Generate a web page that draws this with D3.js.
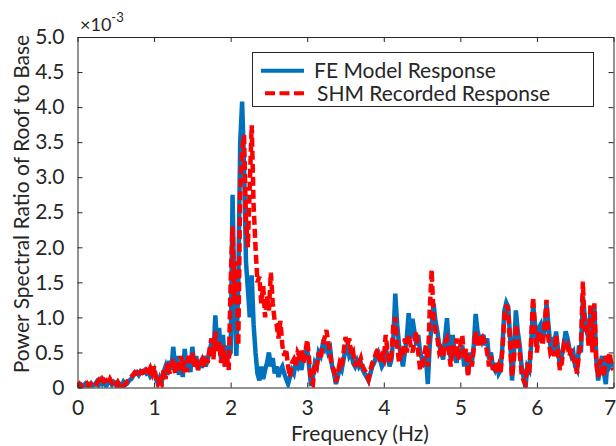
<!DOCTYPE html>
<html><head><meta charset="utf-8">
<script src="https://cdn.jsdelivr.net/npm/d3@7"></script>
<style>
body{margin:0;background:#fff}
text{font-family:Lato,"Open Sans",sans-serif;fill:#262626}
</style>
</head><body><svg id="c" width="616" height="446"></svg>
<script>
// Frequency grid step (Hz) for both series
const freqStep = 0.025;
// FE Model Response (x 1e-3)
const feModel = [
0.03,0.01,0.04,0.02,0.05,0.01,0.03,0.06,0.02,0.04,
0.08,0.03,0.10,0.05,0.09,0.02,0.07,0.10,0.04,0.08,
0.06,0.02,0.05,0.03,0.08,0.04,0.06,0.10,0.12,0.16,
0.20,0.22,0.18,0.23,0.21,0.24,0.20,0.22,0.16,0.20,
0.25,0.12,0.06,0.14,0.08,0.22,0.30,0.18,0.38,0.25,
0.58,0.30,0.45,0.18,0.35,0.15,0.55,0.28,0.40,0.22,
0.58,0.30,0.45,0.25,0.38,0.28,0.45,0.30,0.40,0.50,
0.65,0.45,1.03,0.55,0.85,0.40,0.75,0.30,0.60,0.45,
0.50,2.75,1.20,0.45,1.50,3.50,4.08,3.20,1.80,1.40,
1.00,1.60,0.90,0.50,0.20,0.10,0.30,0.12,0.25,0.35,
0.50,0.30,0.42,0.20,0.30,0.15,0.25,0.30,0.20,0.12,
0.05,0.15,0.25,0.20,0.35,0.30,0.40,0.25,0.45,0.50,
0.55,0.30,0.02,0.15,0.35,0.30,0.50,0.45,0.60,0.55,
0.65,0.50,0.55,0.30,0.20,0.05,0.15,0.30,0.25,0.40,
0.55,0.60,0.45,0.50,0.35,0.30,0.38,0.30,0.35,0.25,
0.20,0.15,0.10,0.20,0.30,0.35,0.45,0.50,0.40,0.30,
0.35,0.55,0.45,0.30,0.40,0.70,1.34,0.90,0.60,0.45,
0.30,0.50,0.70,1.06,0.70,0.98,0.80,0.60,0.75,0.50,
0.40,0.30,0.45,0.05,0.60,0.90,1.20,0.95,0.80,0.60,
0.50,0.40,0.70,0.99,0.60,0.40,0.75,0.50,0.35,0.55,
0.45,0.60,0.30,0.45,0.20,0.50,0.35,0.60,1.05,0.80,
0.70,0.65,0.75,0.60,0.70,0.40,0.50,0.30,0.25,0.35,
0.20,0.25,0.60,1.10,1.21,1.15,0.70,0.10,0.50,1.10,
0.80,0.60,0.30,0.15,0.00,0.30,0.25,0.60,1.20,0.90,
0.60,0.85,0.90,0.70,0.80,1.20,0.90,0.60,0.65,0.50,
0.80,0.55,0.30,0.45,0.60,0.80,0.70,0.55,0.45,0.50,
0.30,0.25,0.60,0.50,1.30,1.00,0.80,0.70,1.10,0.60,
1.15,0.40,0.10,0.30,0.45,0.20,0.05,0.45,0.30,0.35,
0.30];
// SHM Recorded Response (x 1e-3)
const shmRecorded = [
0.02,0.05,0.01,0.04,0.03,0.06,0.02,0.05,0.03,0.07,
0.05,0.10,0.06,0.12,0.08,0.10,0.05,0.12,0.07,0.09,
0.04,0.08,0.03,0.06,0.02,0.05,0.09,0.12,0.15,0.18,
0.22,0.20,0.25,0.21,0.23,0.19,0.25,0.22,0.28,0.20,
0.30,0.15,0.05,0.10,0.05,0.25,0.12,0.35,0.20,0.30,
0.40,0.20,0.35,0.25,0.45,0.30,0.38,0.22,0.45,0.35,
0.50,0.30,0.42,0.25,0.35,0.40,0.30,0.45,0.35,0.55,
0.70,0.40,0.80,0.50,0.65,0.35,0.60,0.30,0.45,0.25,
1.50,2.30,1.20,1.80,0.60,2.80,3.40,3.60,2.40,2.00,
2.90,3.74,2.60,2.00,1.50,1.58,1.20,1.45,1.00,1.30,
1.10,1.64,1.20,0.95,0.90,0.70,0.95,0.60,0.45,0.55,
0.30,0.15,0.35,0.40,0.30,0.50,0.45,0.55,0.35,0.50,
0.68,0.40,0.10,0.05,0.35,0.30,0.50,0.40,0.60,0.70,
0.82,0.65,0.45,0.30,0.25,0.08,0.20,0.35,0.30,0.50,
0.72,0.60,0.70,0.45,0.50,0.30,0.40,0.35,0.42,0.30,
0.25,0.20,0.12,0.25,0.35,0.40,0.50,0.55,0.35,0.45,
0.40,0.75,0.50,0.35,0.45,0.90,1.00,0.60,0.35,0.50,
0.45,0.70,0.50,0.75,0.60,0.50,0.65,0.80,0.50,0.25,
0.30,0.45,0.60,0.30,1.10,1.68,1.00,0.80,0.70,0.50,
0.55,0.45,0.65,0.70,0.50,0.30,0.60,0.45,0.70,0.40,
0.60,0.75,0.40,0.55,0.15,0.45,0.30,0.55,0.80,0.60,
0.75,0.60,0.70,0.65,0.50,0.30,0.45,0.25,0.35,0.20,
0.30,0.20,0.55,1.00,1.18,1.10,0.60,0.15,0.40,0.90,
0.70,0.50,0.20,0.10,0.05,0.35,0.20,0.70,1.29,0.80,
0.50,0.80,0.75,0.60,0.90,1.25,0.70,0.50,0.55,0.45,
0.75,0.50,0.25,0.35,0.60,0.55,0.60,0.45,0.55,0.40,
0.35,0.20,0.50,0.60,1.51,0.80,0.90,0.60,1.20,0.50,
1.20,0.35,0.15,0.40,0.30,0.15,0.45,0.35,0.50,0.30,
0.25];
const xTicks = [0,1,2,3,4,5,6,7];
const xTickLabels = ["0","1","2","3","4","5","6","7"];
const yTicks = [0,0.5,1,1.5,2,2.5,3,3.5,4,4.5,5];
const yTickLabels = ["0","0.5","1.0","1.5","2.0","2.5","3.0","3.5","4.0","4.5","5.0"];
const seriesNames = ["FE Model Response","SHM Recorded Response"];
const frequencies = d3.range(feModel.length).map(i => +(i*freqStep).toFixed(4));

(function(){
const svg = d3.select("#c");
svg.append("rect").attr("width",616).attr("height",446).attr("fill","#fff");
const L=77.5, R=613.5, T=37, B=387.5;
const x = d3.scaleLinear().domain([0,7]).range([L,R]);
const y = d3.scaleLinear().domain([0,5]).range([B,T]);
const axisCol = "#262626";

svg.append("clipPath").attr("id","clip").append("rect")
  .attr("x",L).attr("y",T).attr("width",R-L).attr("height",B-T);

const line = d3.line().x((d,i)=>x(frequencies[i])).y(d=>y(d));
const g = svg.append("g").attr("clip-path","url(#clip)");
g.append("path").datum(feModel).attr("d",line).attr("fill","none")
  .attr("stroke","#0072BD").attr("stroke-width",4.5).attr("stroke-linejoin","miter");
g.append("path").datum(shmRecorded).attr("d",line).attr("fill","none")
  .attr("stroke","#FF0000").attr("stroke-width",4.5).attr("stroke-dasharray","9,4");

const fs = 21;
const axB = d3.axisBottom(x).tickValues(xTicks).tickSizeInner(-5).tickSizeOuter(0)
  .tickFormat((d,i)=>xTickLabels[i]).tickPadding(13);
const gb = svg.append("g").attr("transform",`translate(0,${B})`).call(axB);
const axL = d3.axisLeft(y).tickValues(yTicks).tickSizeInner(-5).tickSizeOuter(0)
  .tickFormat((d,i)=>yTickLabels[i]).tickPadding(13);
const gl = svg.append("g").attr("transform",`translate(${L},0)`).call(axL);
const axT = d3.axisTop(x).tickValues(xTicks).tickSizeInner(-5).tickSizeOuter(0).tickFormat("");
const gt = svg.append("g").attr("transform",`translate(0,${T})`).call(axT);
const axR = d3.axisRight(y).tickValues(yTicks).tickSizeInner(-5).tickSizeOuter(0).tickFormat("");
const gr = svg.append("g").attr("transform",`translate(${R},0)`).call(axR);
[gb,gl,gt,gr].forEach(a=>{
  a.selectAll("path,line").attr("stroke",axisCol).attr("stroke-width",1);
  a.selectAll("text").attr("font-family","Lato").attr("font-size",fs).attr("fill",axisCol);
});
gb.selectAll(".tick text").filter(d=>d===7).attr("dx",-4);

svg.append("text").attr("x",80).attr("y",31).attr("font-size",18)
  .text("\u00d710").append("tspan").attr("dy",-9).attr("font-size",13).text("-3");

svg.append("text").attr("x",360).attr("y",441).attr("text-anchor","middle")
  .attr("font-size",fs).text("Frequency (Hz)");
svg.append("text").attr("transform","translate(29,204) rotate(-90)")
  .attr("text-anchor","middle").attr("font-size",fs).text("Power Spectral Ratio of Roof to Base");

const lg = svg.append("g");
lg.append("rect").attr("x",252.5).attr("y",52.5).attr("width",341).attr("height",54)
  .attr("fill","#fff").attr("stroke",axisCol).attr("stroke-width",1);
lg.append("line").attr("x1",261).attr("x2",304).attr("y1",70.7).attr("y2",70.7)
  .attr("stroke","#0072BD").attr("stroke-width",4);
lg.append("line").attr("x1",265).attr("x2",304).attr("y1",93.3).attr("y2",93.3)
  .attr("stroke","#FF0000").attr("stroke-width",4).attr("stroke-dasharray","10,4.5");
lg.append("text").attr("x",314).attr("y",78).attr("font-size",21).text(seriesNames[0]);
lg.append("text").attr("x",317).attr("y",100.5).attr("font-size",21).text(seriesNames[1]);
})();
</script></body></html>
